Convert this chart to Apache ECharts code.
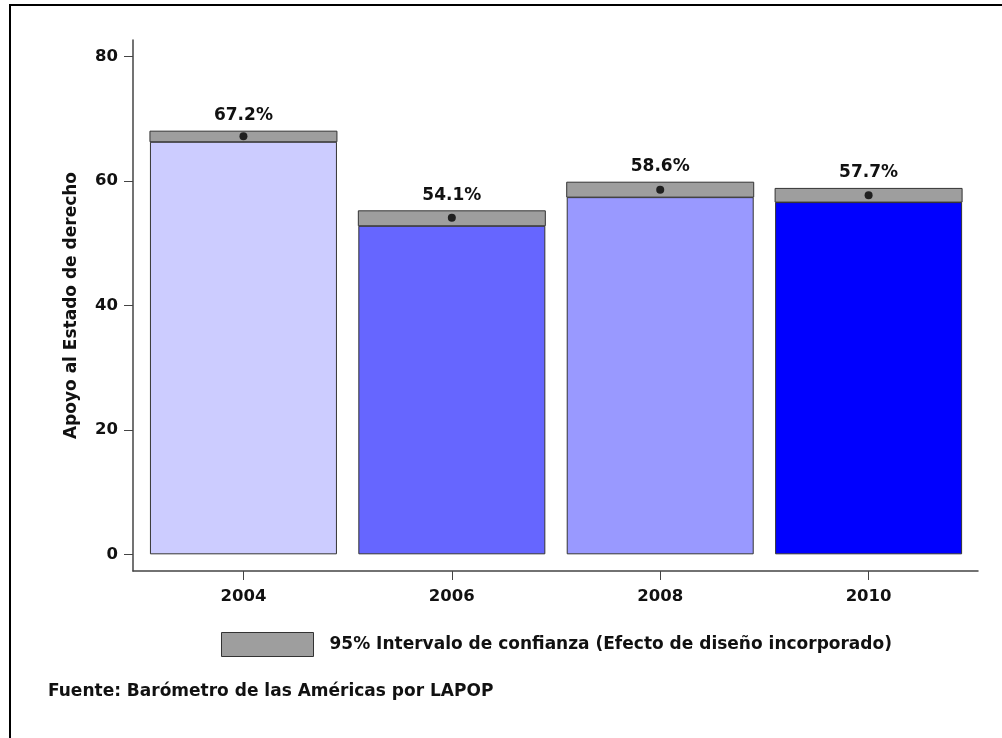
<!DOCTYPE html>
<html>
<head>
<meta charset="utf-8">
<script src="https://cdn.jsdelivr.net/npm/echarts@6/dist/echarts.min.js"></script>
<style>
html,body{margin:0;padding:0;background:#fff;}
#chart{width:1002px;height:738px;}
</style>
</head>
<body>
<div id="chart"></div>
<script>
// ---- data ----
const years = [2004, 2006, 2008, 2010];
const means = [67.2, 54.1, 58.6, 57.7];
const ciLower = [66.3, 52.8, 57.4, 56.6];
const ciUpper = [68.0, 55.2, 59.8, 58.8];
const barColors = ['#ccccff', '#6666ff', '#9999ff', '#0000ff'];
const yTicks = [0, 20, 40, 60, 80];
const xTicks = [2004, 2006, 2008, 2010];
const ciName = '95% Intervalo de confianza (Efecto de diseño incorporado)';
const yTitle = 'Apoyo al Estado de derecho';
const sourceText = 'Fuente: Barómetro de las Américas por LAPOP';

const FONT = 'DejaVu Sans';
const BAR_W = 187;
const GRAY = '#9e9e9e';
const EDGE = '#333333';

const chart = echarts.init(document.getElementById('chart'), null, {renderer: 'canvas'});

const option = {
  backgroundColor: '#ffffff',
  animation: false,
  title: {
    text: sourceText,
    left: 48, top: 683, padding: 0,
    textStyle: {fontFamily: FONT, fontWeight: 'bold', fontSize: 17, color: '#111'}
  },
  legend: {
    left: 221, top: 632, padding: 0,
    itemWidth: 92, itemHeight: 24,
    data: [{name: ciName, icon: 'rect'}],
    itemStyle: {borderColor: EDGE, borderWidth: 1},
    textStyle: {fontFamily: FONT, fontWeight: 'bold', fontSize: 17, color: '#111', padding: [0, 0, 0, 11]},
    selectedMode: false
  },
  grid: {left: 133, top: 40, right: 24, bottom: 167, containLabel: false},
  xAxis: {
    type: 'value',
    min: 2002.94, max: 2011.05,
    splitLine: {show: false},
    axisLine: {show: true, onZero: false, lineStyle: {color: '#444', width: 1.5}},
    axisTick: {show: true, length: 9, customValues: xTicks, lineStyle: {color: '#444'}},
    axisLabel: {customValues: xTicks, margin: 17, fontFamily: FONT, fontWeight: 'bold', fontSize: 16.5, color: '#111',
      formatter: v => String(v)}
  },
  yAxis: {
    type: 'value',
    min: -2.68, max: 82.65,
    name: yTitle,
    nameLocation: 'middle',
    nameGap: 53,
    nameTextStyle: {fontFamily: FONT, fontWeight: 'bold', fontSize: 17, color: '#111'},
    splitLine: {show: false},
    axisLine: {show: true, onZero: false, lineStyle: {color: '#444', width: 1.5}},
    axisTick: {show: true, length: 9, customValues: yTicks, lineStyle: {color: '#444'}},
    axisLabel: {customValues: yTicks, margin: 15, fontFamily: FONT, fontWeight: 'bold', fontSize: 16.5, color: '#111'}
  },
  series: [
    {
      type: 'bar',
      name: 'bar',
      barWidth: BAR_W,
      data: years.map((y, i) => ({value: [y, ciLower[i]], itemStyle: {color: barColors[i]}})),
      itemStyle: {borderColor: EDGE, borderWidth: 1},
      z: 2
    },
    {
      type: 'custom',
      name: ciName,
      itemStyle: {color: GRAY},
      data: years.map((y, i) => [y, ciLower[i], ciUpper[i], means[i]]),
      renderItem: function (params, api) {
        const x = api.value(0);
        const lo = api.coord([x, api.value(1)]);
        const hi = api.coord([x, api.value(2)]);
        const label = api.value(3).toFixed(1) + '%';
        return {
          type: 'group',
          children: [
            {
              type: 'rect',
              shape: {x: lo[0] - BAR_W / 2, y: hi[1], width: BAR_W, height: lo[1] - hi[1]},
              style: {fill: GRAY, stroke: EDGE, lineWidth: 1}
            },
            {
              type: 'text',
              x: hi[0], y: hi[1] - 7,
              style: {text: label, fontFamily: FONT, fontWeight: 'bold', fontSize: 17, fill: '#111',
                align: 'center', verticalAlign: 'bottom'}
            }
          ]
        };
      },
      z: 3
    },
    {
      type: 'scatter',
      name: 'mean',
      symbol: 'circle',
      symbolSize: 8,
      itemStyle: {color: '#000'},
      data: years.map((y, i) => [y, means[i]]),
      z: 5
    }
  ],
  graphic: [
    {
      type: 'rect',
      shape: {x: 10, y: 5, width: 1300, height: 1000},
      style: {fill: null, stroke: '#000', lineWidth: 2},
      silent: true
    }
  ]
};
chart.setOption(option);
</script>
</body>
</html>
